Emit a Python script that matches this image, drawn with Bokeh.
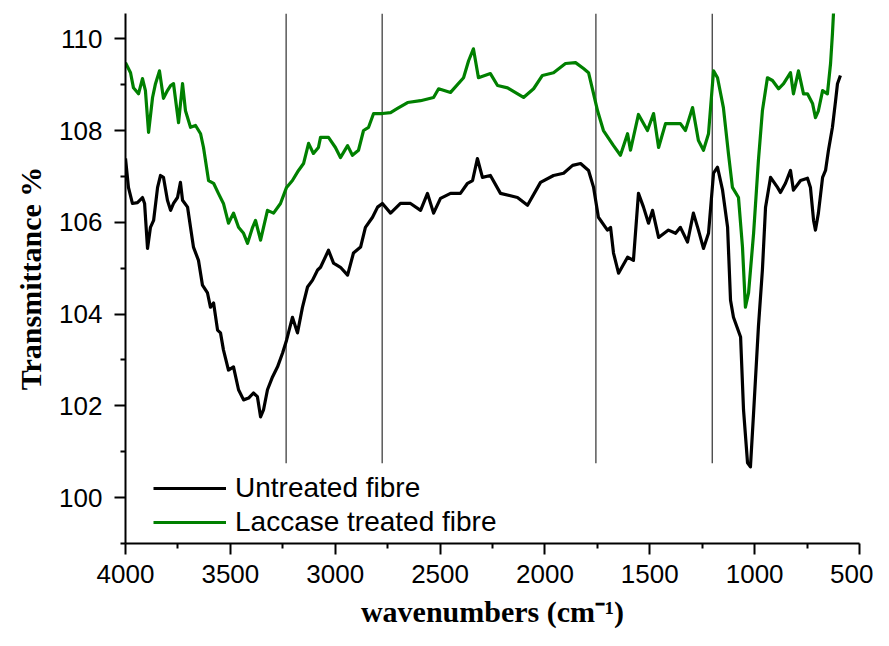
from bokeh.plotting import figure
from bokeh.models import Range1d, FixedTicker, Legend, LegendItem
from bokeh.embed import file_html
from bokeh.resources import INLINE

# ---- data (wavenumber cm-1, transmittance %) ----
wn_untreated = [4000, 3986, 3967, 3943, 3919, 3909, 3895, 3881, 3866, 3847, 3833, 3819, 3800, 3785,
                3771, 3752, 3738, 3728, 3704, 3690, 3676, 3652, 3633, 3609, 3595, 3580, 3561, 3547,
                3533, 3509, 3485, 3461, 3437, 3413, 3390, 3371, 3356, 3342, 3323, 3299, 3275, 3251,
                3232, 3204, 3180, 3156, 3132, 3108, 3084, 3070, 3032, 3008, 2975, 2941, 2913, 2879,
                2856, 2822, 2798, 2775, 2736, 2689, 2641, 2593, 2560, 2531, 2498, 2450, 2403, 2369,
                2345, 2322, 2298, 2260, 2212, 2131, 2083, 2021, 1959, 1911, 1868, 1830, 1792, 1768,
                1745, 1702, 1687, 1673, 1649, 1606, 1578, 1554, 1530, 1506, 1487, 1458, 1411, 1377,
                1354, 1320, 1292, 1268, 1244, 1220, 1196, 1177, 1153, 1129, 1115, 1101, 1067, 1053,
                1034, 1020, 1005, 982, 963, 948, 924, 891, 877, 853, 829, 815, 781, 748, 734, 719,
                710, 696, 676, 662, 648, 629, 614, 605, 591]
t_untreated = [107.39, 106.76, 106.41, 106.43, 106.54, 106.41, 105.43, 105.89, 106.04, 106.76, 107.02,
               106.98, 106.48, 106.26, 106.41, 106.54, 106.87, 106.48, 106.33, 105.89, 105.46, 105.17,
               104.63, 104.46, 104.15, 104.24, 103.65, 103.59, 103.22, 102.78, 102.85, 102.35, 102.13,
               102.17, 102.28, 102.20, 101.76, 101.91, 102.35, 102.63, 102.85, 103.15, 103.43, 103.93,
               103.59, 104.15, 104.59, 104.74, 104.96, 105.02, 105.39, 105.11, 105.02, 104.85, 105.33,
               105.46, 105.89, 106.11, 106.33, 106.41, 106.20, 106.41, 106.41, 106.26, 106.63, 106.20,
               106.52, 106.63, 106.63, 106.85, 106.91, 107.39, 106.98, 107.02, 106.63, 106.54, 106.37,
               106.87, 107.02, 107.07, 107.24, 107.28, 107.13, 106.76, 106.11, 105.83, 105.89, 105.33,
               104.89, 105.24, 105.17, 106.63, 106.33, 105.98, 106.26, 105.67, 105.83, 105.76, 105.89,
               105.57, 106.20, 105.83, 105.43, 105.76, 107.07, 107.20, 106.70, 105.89, 104.30, 103.93,
               103.50, 101.91, 100.76, 100.67, 101.85, 103.72, 104.96, 106.33, 106.98, 106.76, 106.65,
               106.85, 107.13, 106.70, 106.91, 106.96, 106.76, 106.04, 105.83, 106.20, 106.98, 107.13,
               107.57, 108.07, 108.65, 109.02, 109.20]

wn_laccase = [4000, 3976, 3962, 3938, 3919, 3905, 3890, 3871, 3857, 3838, 3819, 3800, 3785, 3771,
              3747, 3728, 3714, 3690, 3666, 3642, 3628, 3604, 3580, 3557, 3533, 3509, 3485, 3461,
              3437, 3418, 3394, 3380, 3356, 3323, 3294, 3261, 3232, 3204, 3175, 3151, 3127, 3104,
              3080, 3070, 3032, 2999, 2975, 2941, 2918, 2889, 2865, 2841, 2817, 2775, 2736, 2703,
              2655, 2593, 2531, 2507, 2450, 2388, 2364, 2341, 2317, 2260, 2226, 2178, 2102, 2054,
              2012, 1959, 1902, 1854, 1816, 1792, 1768, 1749, 1721, 1673, 1640, 1606, 1592, 1554,
              1511, 1482, 1458, 1425, 1392, 1354, 1330, 1296, 1268, 1244, 1220, 1196, 1177, 1149,
              1125, 1106, 1077, 1058, 1044, 1029, 1005, 982, 963, 939, 915, 886, 862, 829, 815,
              791, 767, 748, 724, 710, 696, 676, 653, 638, 629, 619]
t_laccase = [109.48, 109.26, 108.93, 108.80, 109.13, 108.87, 107.96, 108.72, 109.02, 109.30, 108.70,
             108.87, 108.98, 109.02, 108.17, 109.02, 108.43, 108.07, 108.11, 107.93, 107.63, 106.91,
             106.85, 106.63, 106.41, 105.98, 106.20, 105.89, 105.76, 105.54, 105.89, 106.04, 105.61,
             106.26, 106.20, 106.41, 106.76, 106.91, 107.13, 107.28, 107.72, 107.50, 107.63, 107.85,
             107.85, 107.63, 107.41, 107.67, 107.46, 107.57, 108.00, 108.07, 108.37, 108.37, 108.39,
             108.48, 108.61, 108.65, 108.72, 108.91, 108.83, 109.15, 109.52, 109.78, 109.15, 109.24,
             108.98, 108.93, 108.72, 108.91, 109.20, 109.26, 109.46, 109.48, 109.35, 109.26, 108.80,
             108.43, 108.00, 107.67, 107.46, 107.93, 107.57, 108.35, 108.00, 108.37, 107.63, 108.15,
             108.15, 108.15, 108.00, 108.50, 107.78, 107.57, 107.93, 109.30, 109.15, 108.50, 107.50,
             106.76, 106.54, 105.46, 104.15, 104.46, 105.76, 107.35, 108.43, 109.15, 109.09, 108.91,
             109.02, 109.26, 108.80, 109.30, 108.80, 108.80, 108.59, 108.28, 108.43, 108.87, 108.80,
             109.46, 110.11, 111.00]

marker_wn = [3234, 2776, 1757, 1202]
marker_bottom = 100.75

x_major = [4000, 3500, 3000, 2500, 2000, 1500, 1000, 500]
x_minor = [3750, 3250, 2750, 2250, 1750, 1250, 750]
y_major = [100, 102, 104, 106, 108, 110]
y_minor = [99, 101, 103, 105, 107, 109]

labels = ["Untreated fibre", "Laccase treated fibre"]
x_title = "wavenumbers (cm\u207b\u00b9)"
y_title = "Transmittance %"

# ---- figure ----
Y_TOP = 110.55
p = figure(width=873, height=630, output_backend="svg", toolbar_location=None,
           x_range=Range1d(4000, 500), y_range=Range1d(99, Y_TOP),
           min_border_left=125, min_border_right=14, min_border_top=13, min_border_bottom=87)
p.xgrid.visible = False
p.ygrid.visible = False
p.outline_line_color = None
p.background_fill_color = "white"
p.border_fill_color = "white"

p.segment(x0=marker_wn, y0=[marker_bottom] * len(marker_wn), x1=marker_wn,
          y1=[Y_TOP] * len(marker_wn), line_color="#4d4d4d", line_width=1.4)

r1 = p.line(wn_untreated, t_untreated, line_color="black", line_width=3.2, line_join="round")
r2 = p.line(wn_laccase, t_laccase, line_color="#008000", line_width=3.2, line_join="round")

legend = Legend(items=[LegendItem(label=labels[0], renderers=[r1]),
                       LegendItem(label=labels[1], renderers=[r2])],
                location=(28, 4), margin=0, padding=0, spacing=0,
                glyph_width=73, glyph_height=34, label_height=34, label_standoff=9,
                label_text_font="Liberation Sans", label_text_font_size="28px",
                label_text_color="black", border_line_color=None, background_fill_alpha=0)
p.add_layout(legend)

for ax in (p.xaxis[0], p.yaxis[0]):
    ax.axis_line_width = 2
    ax.axis_line_color = "black"
    ax.major_tick_line_width = 2
    ax.minor_tick_line_width = 2
    ax.major_tick_line_color = "black"
    ax.minor_tick_line_color = "black"
    ax.major_tick_out = 11
    ax.major_tick_in = 0
    ax.minor_tick_out = 5
    ax.minor_tick_in = 0
    ax.major_label_text_font = "Liberation Sans"
    ax.major_label_text_font_size = "26px"
    ax.major_label_text_color = "black"
    ax.axis_label_text_font = "Liberation Serif"
    ax.axis_label_text_font_style = "bold"
    ax.axis_label_text_font_size = "30px"
    ax.axis_label_text_color = "black"

p.xaxis[0].ticker = FixedTicker(ticks=x_major, minor_ticks=x_minor)
p.yaxis[0].ticker = FixedTicker(ticks=y_major, minor_ticks=y_minor)
p.xaxis[0].major_label_standoff = 10
p.yaxis[0].major_label_standoff = 12
p.xaxis[0].axis_label = x_title
p.yaxis[0].axis_label = y_title
p.xaxis[0].axis_label_standoff = 9
p.yaxis[0].axis_label_standoff = 9

open("out.html", "w").write(file_html(p, INLINE))
